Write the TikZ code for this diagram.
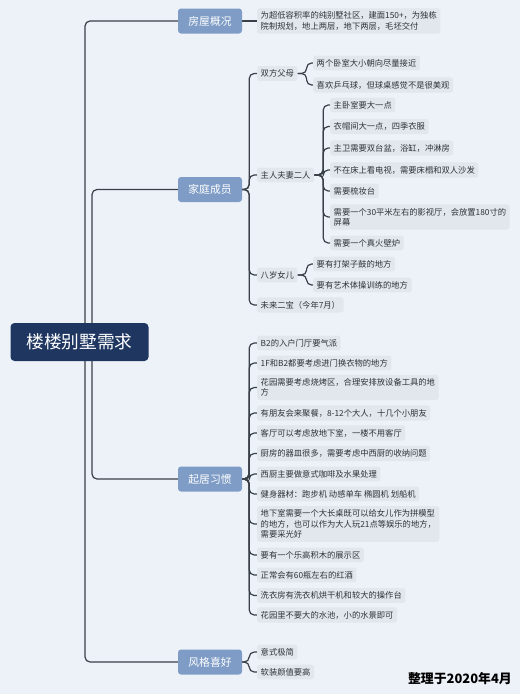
\documentclass[tikz,border=0pt]{standalone}
\usepackage{fontspec}
\setmainfont{Noto Sans CJK SC}
\usetikzlibrary{backgrounds}
\definecolor{bgc}{HTML}{EDF2F9}
\definecolor{rootc}{HTML}{1E3660}
\definecolor{catc}{HTML}{7E9CC6}
\definecolor{leafc}{HTML}{E2E7EE}
\definecolor{linec}{HTML}{3A4048}
\definecolor{txtc}{HTML}{2E3238}
\tikzset{
  rootbox/.style={rectangle, rounded corners=4pt, fill=rootc, text=white,
    font=\fontsize{17.7}{20}\selectfont, minimum width=138pt, minimum height=38pt, inner sep=0pt},
  catbox/.style={rectangle, rounded corners=3pt, fill=catc, text=white,
    font=\fontsize{10.8}{12}\selectfont, minimum width=64pt, minimum height=25pt, inner sep=0pt},
  leaf/.style={rectangle, rounded corners=2.5pt, fill=leafc, text=txtc,
    font=\fontsize{8.3}{10.3}\selectfont, inner xsep=3.5pt, inner ysep=3.6pt, anchor=west, align=left},
  conn/.style={draw=linec, line width=1.2pt, rounded corners=5pt},
  note/.style={font=\fontsize{12.9}{14}\selectfont\bfseries, text=black, anchor=east, inner sep=0pt}
}
\begin{document}
\begin{tikzpicture}[x=1pt,y=-1pt]
\useasboundingbox (0,0) rectangle (520,694);
\begin{scope}[on background layer]
\fill[bgc] (0,0) rectangle (520,694);
\end{scope}

% root and categories
\node[rootbox] (root) at (79.5,342) {楼楼别墅需求};
\node[catbox] (c1) at (210,21) {房屋概况};
\node[catbox] (c2) at (210,189.5) {家庭成员};
\node[catbox] (c3) at (210,479) {起居习惯};
\node[catbox] (c4) at (210,662) {风格喜好};
\coordinate (tO) at (85,342);
\coordinate (tI) at (92,342);

% house
\node[leaf] (h1) at (257,21) {为超低容积率的纯别墅社区，建面150+，为独栋\\院制规划，地上两层，地下两层，毛坯交付};

% family
\node[leaf] (f1) at (257,73.5) {双方父母};
\node[leaf] (f2) at (257,175) {主人夫妻二人};
\node[leaf] (f3) at (257,275) {八岁女儿};
\node[leaf] (f4) at (257,305) {未来二宝（今年7月）};

\node[leaf] (f1a) at (313,63) {两个卧室大小朝向尽量接近};
\node[leaf] (f1b) at (313,85) {喜欢乒乓球，但球桌感觉不是很美观};

\node[leaf] (f2a) at (330,105) {主卧室要大一点};
\node[leaf] (f2b) at (330,126.5) {衣帽间大一点，四季衣服};
\node[leaf] (f2c) at (330,148) {主卫需要双台盆，浴缸，冲淋房};
\node[leaf] (f2d) at (330,170) {不在床上看电视，需要床榻和双人沙发};
\node[leaf] (f2e) at (330,191) {需要梳妆台};
\node[leaf] (f2f) at (330,217) {需要一个30平米左右的影视厅，会放置180寸的\\屏幕};
\node[leaf] (f2g) at (330,243) {需要一个真火壁炉};

\node[leaf] (f3a) at (313,264) {要有打架子鼓的地方};
\node[leaf] (f3b) at (313,285) {要有艺术体操训练的地方};

% habits
\node[leaf] (r1) at (257,343) {B2的入户门厅要气派};
\node[leaf] (r2) at (257,363) {1F和B2都要考虑进门换衣物的地方};
\node[leaf] (r3) at (257,387.5) {花园需要考虑烧烤区，合理安排放设备工具的地\\方};
\node[leaf] (r4) at (257,413) {有朋友会来聚餐，8-12个大人，十几个小朋友};
\node[leaf] (r5) at (257,433) {客厅可以考虑放地下室，一楼不用客厅};
\node[leaf] (r6) at (257,453.5) {厨房的器皿很多，需要考虑中西厨的收纳问题};
\node[leaf] (r7) at (257,474) {西厨主要做意式咖啡及水果处理};
\node[leaf] (r8) at (257,494) {健身器材：跑步机 动感单车 椭圆机 划船机};
\node[leaf] (r9) at (257,524) {地下室需要一个大长桌既可以给女儿作为拼模型\\的地方，也可以作为大人玩21点等娱乐的地方，\\需要采光好};
\node[leaf] (r10) at (257,555) {要有一个乐高积木的展示区};
\node[leaf] (r11) at (257,575) {正常会有60瓶左右的红酒};
\node[leaf] (r12) at (257,595.5) {洗衣房有洗衣机烘干机和较大的操作台};
\node[leaf] (r13) at (257,615) {花园里不要大的水池，小的水景即可};

% style
\node[leaf] (s1) at (257,652) {意式极简};
\node[leaf] (s2) at (257,672) {软装颜值要高};

\node[note] (date) at (512,679) {整理于2020年4月};

% connectors
\begin{scope}[on background layer]
\draw[conn] (tO) |- (c1.west);
\draw[conn] (tO) |- (c4.west);
\draw[conn] (tI) |- (c2.west);
\draw[conn] (tI) |- (c3.west);

\draw[conn] (c1.east) -- (h1.west);

\foreach \n in {f1,f2,f3,f4}{\draw[conn] (c2.east) -- ++(7,0) |- (\n.west);}
\foreach \n in {f1a,f1b}{\draw[conn] (f1.east) -- ++(9,0) |- (\n.west);}
\foreach \n in {f2a,f2b,f2c,f2d,f2e,f2f,f2g}{\draw[conn] (f2.east) -- ++(9,0) |- (\n.west);}
\foreach \n in {f3a,f3b}{\draw[conn] (f3.east) -- ++(9,0) |- (\n.west);}
\foreach \n in {r1,r2,r3,r4,r5,r6,r7,r8,r9,r10,r11,r12,r13}{\draw[conn] (c3.east) -- ++(7,0) |- (\n.west);}
\foreach \n in {s1,s2}{\draw[conn] (c4.east) -- ++(7,0) |- (\n.west);}
\end{scope}
\end{tikzpicture}
\end{document}
